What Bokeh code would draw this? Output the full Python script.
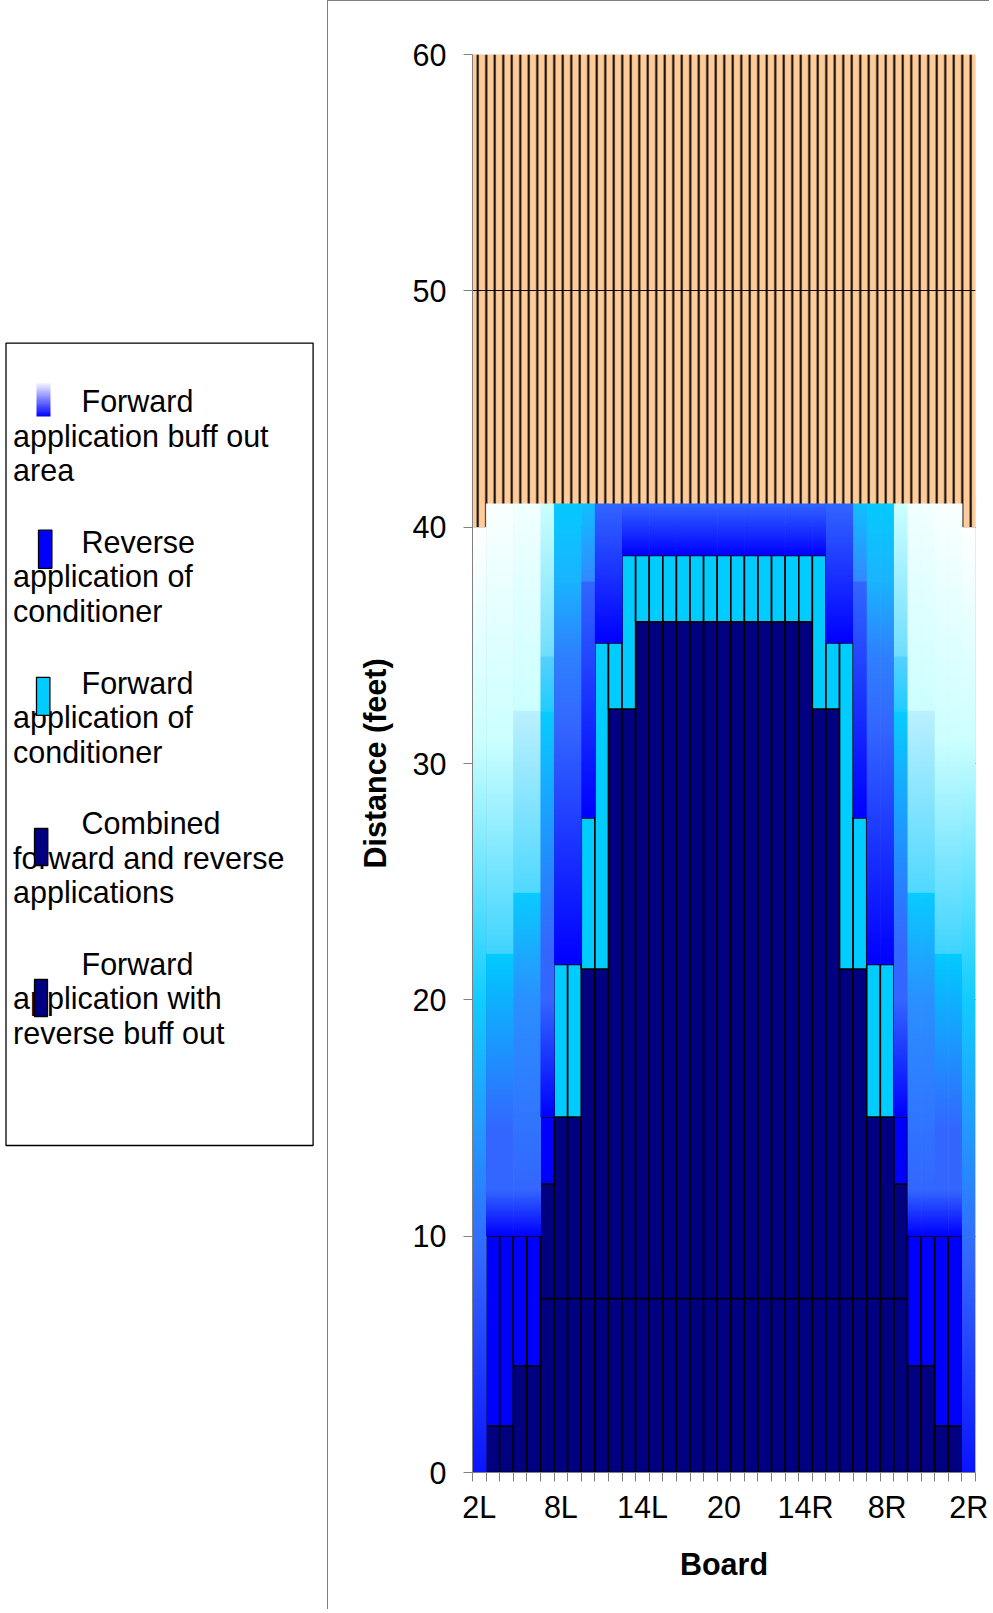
import numpy as np
from bokeh.plotting import figure
from bokeh.layouts import row
from bokeh.models import Range1d, FixedTicker, ColumnDataSource
from bokeh.core.properties import value
from bokeh.embed import file_html
from bokeh.resources import INLINE

# ---------------- data ----------------
boards = ["2L", "3L", "4L", "5L", "6L", "7L", "8L", "9L", "10L", "11L", "12L", "13L",
          "14L", "15L", "16L", "17L", "18L", "19L", "20", "19R", "18R", "17R", "16R",
          "15R", "14R", "13R", "12R", "11R", "10R", "9R", "8R", "7R", "6R", "5R", "4R",
          "3R", "2R"]
labelled_boards = ["2L", "8L", "14L", "20", "14R", "8R", "2R"]
y_ticks = [0, 10, 20, 30, 40, 50, 60]

# stacked segment heights (feet), bottom to top
combined = [0, 1.97, 1.97, 4.5, 4.5, 7.36, 7.36, 7.36, 7.36, 7.36, 7.36, 7.36, 7.36,
            7.36, 7.36, 7.36, 7.36, 7.36, 7.36, 7.36, 7.36, 7.36, 7.36, 7.36, 7.36,
            7.36, 7.36, 7.36, 7.36, 7.36, 7.36, 7.36, 4.5, 4.5, 1.97, 1.97, 0]
fwd_rev_buff = [0, 0, 0, 0, 0, 4.84, 7.68, 7.68, 13.94, 13.94, 24.94, 24.94, 28.64,
                28.64, 28.64, 28.64, 28.64, 28.64, 28.64, 28.64, 28.64, 28.64, 28.64,
                28.64, 28.64, 24.94, 24.94, 13.94, 13.94, 7.68, 7.68, 4.84, 0, 0, 0, 0, 0]
reverse_app = [0, 8.03, 8.03, 5.5, 5.5, 2.84, 0, 0, 0, 0, 0, 0, 0, 0, 0, 0, 0, 0, 0,
               0, 0, 0, 0, 0, 0, 0, 0, 0, 0, 0, 0, 2.84, 5.5, 5.5, 8.03, 8.03, 0]
forward_app = [0, 0, 0, 0, 0, 0, 6.46, 6.46, 6.4, 13.8, 2.8, 6.5, 2.8, 2.8, 2.8, 2.8,
               2.8, 2.8, 2.8, 2.8, 2.8, 2.8, 2.8, 2.8, 2.8, 6.5, 2.8, 13.8, 6.4, 6.46,
               6.46, 0, 0, 0, 0, 0, 0]
buff_area = [40, 31, 31, 31, 31, 25.96, 19.5, 19.5, 13.3, 5.9, 5.9, 2.2, 2.2, 2.2, 2.2,
             2.2, 2.2, 2.2, 2.2, 2.2, 2.2, 2.2, 2.2, 2.2, 2.2, 2.2, 5.9, 5.9, 13.3, 19.5,
             19.5, 25.96, 31, 31, 31, 31, 40]

legend_labels = [
    ["Forward", "application buff out", "area"],
    ["Reverse", "application of", "conditioner"],
    ["Forward", "application of", "conditioner"],
    ["Combined", "forward and reverse", "applications"],
    ["Forward", "application with", "reverse buff out"],
]

# ---------------- styles ----------------
NAVY, BLUE, CYAN, ORANGE = "#000080", "#0000FF", "#00CCFF", "#FFCC99"
FONT = "Liberation Sans"
FS = "30.5px"

# gradient colour stops (feet, colour) of the unbordered buff-out area per board group
PROFILES = {
    "P0": [(0, "#0A14FF"), (9, "#3366FF"), (20, "#11CCFF"), (31, "#CCFFFF"), (40, "#FFFFFF")],
    "P1": [(10, "#0000FF"), (11.94, "#3366FF"), (14.5, "#3366FF"), (21.95, "#00CCFF"),
           (21.95, "#40D4FF"), (31, "#CCFFFF"), (41, "#FAFFFF")],
    "P3": [(10, "#0000FF"), (11.94, "#3366FF"), (20, "#2A90FF"), (24.5, "#08CCFF"),
           (24.5, "#50D8FF"), (32.2, "#BBF0FF"), (32.2, "#CCFFFF"), (41, "#F2FFFF")],
    "P5": [(15.04, "#0000FF"), (20, "#3366FF"), (22.1, "#3366FF"), (32.2, "#08CCFF"),
           (32.2, "#22CCFF"), (34.5, "#55D0FF"), (34.5, "#70DDFF"), (41, "#CCFFFF")],
    "P6": [(21.5, "#0000FF"), (31.5, "#3366FF"), (34.5, "#2E80FF"), (37.7, "#1AB4FF"),
           (41, "#04CAFF")],
    "P8": [(27.7, "#0000FF"), (37.7, "#3366FF"), (37.7, "#3388FF"), (41, "#10C0FF")],
    "P9": [(35.1, "#0000FF"), (41, "#3366FF")],
    "P11": [(38.8, "#0000FF"), (41, "#3366FF")],
}
grad_key = (["P0", "P1", "P1", "P3", "P3", "P5", "P6", "P6", "P8", "P9", "P9"] + ["P11"] * 15 +
            ["P9", "P9", "P8", "P6", "P6", "P5", "P3", "P3", "P1", "P1", "P0"])

n = len(boards)
for arr in (combined, fwd_rev_buff, reverse_app, forward_app, buff_area, grad_key):
    assert len(arr) == n


def rgb(h):
    h = h.lstrip("#")
    return np.array([int(h[0:2], 16), int(h[2:4], 16), int(h[4:6], 16)], dtype=float)


def color_at(y, stops):
    if y <= stops[0][0]:
        return rgb(stops[0][1])
    for (y0, c0), (y1, c1) in zip(stops, stops[1:]):
        if y1 > y0 and y0 <= y <= y1:
            t = (y - y0) / (y1 - y0)
            return rgb(c0) * (1 - t) + rgb(c1) * t
    return rgb(stops[-1][1])


def gradient_column(base, height, stops, rows_per_unit=20):
    rows = max(2, int(round(height * rows_per_unit)))
    img = np.zeros((rows, 1), dtype=np.uint32)
    view = img.view(dtype=np.uint8).reshape((rows, 1, 4))
    for r in range(rows):
        y = base + (r + 0.5) * height / rows
        c = color_at(y, stops)
        view[r, 0, 0:3] = np.clip(np.round(c), 0, 255).astype(np.uint8)
        view[r, 0, 3] = 255
    return img


# ---------------- layout geometry (page pixels) ----------------
W_LEG = 327
FRAME_TOP, FRAME_H, FRAME_W = 53, 1418, 503
B_LEFT, B_RIGHT, B_BOTTOM = 144, 15, 138
H = FRAME_TOP + FRAME_H + B_BOTTOM
W_MAIN = B_LEFT + FRAME_W + B_RIGHT

# ---------------- main chart ----------------
main = figure(width=W_MAIN, height=H, x_range=Range1d(0, n), y_range=Range1d(0, 60),
              output_backend="svg", toolbar_location=None,
              min_border_left=B_LEFT, min_border_right=B_RIGHT, min_border_top=FRAME_TOP,
              min_border_bottom=B_BOTTOM, outline_line_color=None,
              background_fill_color=ORANGE, border_fill_color="white")
main.styles = {"border-top": "1px solid #808080", "border-left": "1px solid #808080"}

# patterned plot area
main.quad(left=[0], right=[n], bottom=[0], top=[max(y_ticks)], fill_color=ORANGE,
          line_color=None, hatch_pattern="|", hatch_color="black", hatch_scale=8.5,
          hatch_weight=2, level="image")

series = [(combined, NAVY), (fwd_rev_buff, NAVY), (reverse_app, BLUE), (forward_app, CYAN)]
bottoms = np.zeros(n)
for vals, col in series:
    v = np.array(vals, dtype=float)
    idx = [i for i in range(n) if v[i] > 0]
    src = ColumnDataSource(dict(x=[i + 0.5 for i in idx],
                                bottom=[bottoms[i] for i in idx],
                                top=[bottoms[i] + v[i] for i in idx]))
    main.vbar(x="x", width=1, bottom="bottom", top="top", source=src, fill_color=col,
              line_color="black", line_width=1.6)
    bottoms = bottoms + v

# unbordered gradient segments (slightly widened so neighbouring columns leave no seams)
imgs = [gradient_column(bottoms[i], buff_area[i], PROFILES[grad_key[i]]) for i in range(n)]
gsrc = ColumnDataSource(dict(image=imgs, x=[float(i) for i in range(n)],
                             y=list(bottoms), dw=[1.04] * (n - 1) + [1.0],
                             dh=list(buff_area)))
main.image_rgba(image="image", x="x", y="y", dw="dw", dh="dh", source=gsrc, level="glyph")

# axes
yax = main.yaxis[0]
yax.ticker = FixedTicker(ticks=y_ticks)
yax.axis_line_color = "#808080"
yax.major_tick_line_color = "#808080"
yax.major_tick_out = 9
yax.major_tick_in = 0
yax.minor_tick_line_color = None
yax.major_label_text_font = FONT
yax.major_label_text_font_size = FS
yax.major_label_text_color = "black"
yax.major_label_standoff = 17
yax.axis_label = "Distance (feet)"
yax.axis_label_text_font = FONT
yax.axis_label_text_font_size = FS
yax.axis_label_text_font_style = "bold"
yax.axis_label_text_color = "black"
yax.axis_label_standoff = 18

xax = main.xaxis[0]
label_pos = [boards.index(b) + 0.5 for b in labelled_boards]
xax.ticker = FixedTicker(ticks=label_pos, minor_ticks=list(range(n + 1)))
xax.major_label_overrides = {p: b for p, b in zip(label_pos, labelled_boards)}
xax.axis_line_color = "#808080"
xax.major_tick_line_color = None
xax.major_tick_out = 9
xax.major_tick_in = 0
xax.minor_tick_line_color = "#808080"
xax.minor_tick_out = 9
xax.minor_tick_in = 0
xax.major_label_text_font = FONT
xax.major_label_text_font_size = FS
xax.major_label_text_color = "black"
xax.major_label_standoff = 8
xax.axis_label = "Board"
xax.axis_label_text_font = FONT
xax.axis_label_text_font_size = FS
xax.axis_label_text_font_style = "bold"
xax.axis_label_text_color = "black"
xax.axis_label_standoff = 20

main.xgrid.visible = False
main.ygrid.ticker = FixedTicker(ticks=y_ticks)
main.ygrid.grid_line_color = "black"
main.ygrid.grid_line_width = 1

# ---------------- legend panel ----------------
# its frame shares the main chart's vertical extent; data units = page pixels (y negated)
leg = figure(width=W_LEG, height=H,
             x_range=Range1d(0, W_LEG), y_range=Range1d(-(FRAME_TOP + FRAME_H), -FRAME_TOP),
             output_backend="svg", toolbar_location=None, x_axis_type=None,
             y_axis_type=None, min_border_left=0, min_border_right=0,
             min_border_top=FRAME_TOP, min_border_bottom=B_BOTTOM, outline_line_color=None)
leg.xgrid.visible = False
leg.ygrid.visible = False

# legend frame
leg.quad(left=[5.5], right=[312.6], top=[-342.7], bottom=[-1145],
         fill_color=None, line_color="black", line_width=1.3)

ITEM_STEP, LINE_STEP, FIRST_BASE = 140.7, 34.5, 400.6
tx, ty, tt = [], [], []
for k, lines in enumerate(legend_labels):
    for j, line in enumerate(lines):
        tx.append(81.0 if j == 0 else 12.6)
        ty.append(-(FIRST_BASE + k * ITEM_STEP + j * LINE_STEP))
        tt.append(line)
leg.text(x=tx, y=ty, text=tt, text_font=value(FONT), text_font_size=value(FS),
         text_baseline="alphabetic", text_align="left", text_color="black")

# swatches (page coordinates: left, right, top, bottom)
sw = [(36, 50, 381.7, 416), (38, 51.4, 529.7, 567.8), (36, 49.4, 676.8, 714.9),
      (34, 47.3, 828, 865), (34, 47, 979, 1016)]
sw_cols = [None, BLUE, CYAN, NAVY, NAVY]
l0, r0, t0, b0 = sw[0]
leg_grad = gradient_column(0, 1, [(0, "#0000FF"), (1, "#FFFFFF")], rows_per_unit=64)
leg.image_rgba(image=[leg_grad], x=[l0], y=[-b0], dw=[r0 - l0], dh=[b0 - t0])
for (l, r, t, b), c in zip(sw[1:], sw_cols[1:]):
    leg.quad(left=[l], right=[r], top=[-t], bottom=[-b], fill_color=c,
             line_color="black", line_width=1.3)

layout = row(leg, main)
open("out.html", "w").write(file_html(layout, INLINE))
